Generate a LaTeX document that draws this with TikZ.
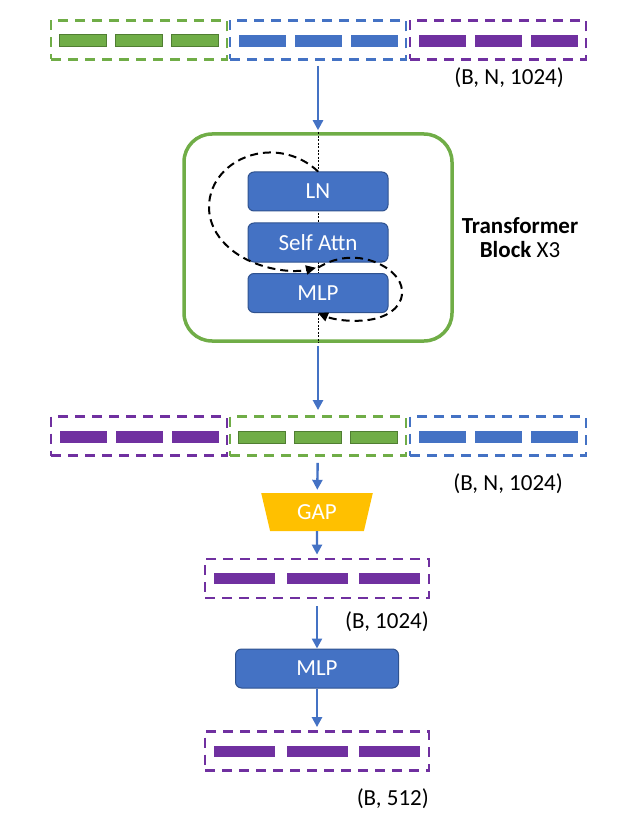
\documentclass[tikz,border=0pt]{standalone}
\usepackage{fontspec}
\setmainfont{Carlito}
\usepackage{tikz}
\usetikzlibrary{arrows.meta}
\usetikzlibrary{shapes.geometric}
\usetikzlibrary{hobby}
\usetikzlibrary{calc}

\definecolor{tgreen}{HTML}{70AD47}
\definecolor{tgreendk}{HTML}{507E32}
\definecolor{tblue}{HTML}{4472C4}
\definecolor{tbluedk}{HTML}{2F528F}
\definecolor{tpurple}{HTML}{7030A0}
\definecolor{tgold}{HTML}{FFC000}

\tikzset{
  grp/.style={draw=#1, line width=2.8pt, dash pattern=on 10pt off 7pt, minimum width=176pt, minimum height=39pt, inner sep=0pt},
  tok/.style={fill=#1, minimum width=47pt, minimum height=12pt, inner sep=0pt},
  flow/.style={draw=tblue, line width=2.4pt, -{Triangle[length=10pt,width=10pt]}},
  layer/.style={fill=tblue, draw=tbluedk, line width=1pt, rounded corners=6pt, text=white, minimum width=140pt, minimum height=39pt, font=\fontsize{23}{27}\selectfont},
  dimlbl/.style={font=\fontsize{23}{27}\selectfont, inner sep=0pt},
  skipline/.style={black, line width=2pt, dash pattern=on 8pt off 5pt, -{Triangle[length=10pt,width=9pt]}},
}

\begin{document}
\begin{tikzpicture}[x=1pt, y=-1pt]
    \useasboundingbox (0,0) rectangle (617,818);
    % input tokens
    \node[grp=tgreen] (in1) at (139,40) {};
    \node[grp=tblue] (in2) at (318,40) {};
    \node[grp=tpurple] (in3) at (498,40) {};
    \foreach \dx in {-56,0,56} {
      \node[tok=tgreen, draw=tgreendk, line width=1pt] at ($(in1)+(\dx,1)$) {};
      \node[tok=tblue] at ($(in2)+(\dx,1)$) {};
      \node[tok=tpurple] at ($(in3)+(\dx,1)$) {};
    }
    \node[dimlbl, anchor=east] (d1) at (564,78) {(B, N, 1024)};

    % transformer block
    \node[draw=tgreen, line width=3.5pt, rounded corners=28pt, minimum width=268pt, minimum height=207pt] (tb) at (318,237.5) {};
    \draw[black, line width=0.8pt, dash pattern=on 2pt off 1.5pt] (tb.north) -- (tb.south);
    \node[layer] (ln) at (318,191.5) {LN};
    \node[layer] (sa) at (318,242.5) {Self Attn};
    \node[layer] (mlp) at (318,293) {MLP};
    \coordinate (jn) at ($(sa.south)!0.5!(mlp.north)$);
    \draw[skipline, use Hobby shortcut] (ln.north) .. (262,153) .. (209,208) .. (252,262) .. ($(jn)+(-2,0)$);
    \draw[skipline, use Hobby shortcut] (jn) .. (385,267) .. (402,294) .. (368,320) .. (mlp.south);
    \node[dimlbl, align=center, font=\fontsize{23}{24}\selectfont] (tbl) at (520,238) {\textbf{Transformer}\\\textbf{Block} X3};
    \draw[flow, shorten <=5pt, shorten >=2pt] (in2) -- (tb);

    % shuffled tokens
    \node[grp=tpurple] (mid1) at (139,436) {};
    \node[grp=tgreen] (mid2) at (318,436) {};
    \node[grp=tblue] (mid3) at (498,436) {};
    \foreach \dx in {-56,0,56} {
      \node[tok=tpurple] at ($(mid1)+(\dx,1)$) {};
      \node[tok=tgreen, draw=tgreendk, line width=1pt] at ($(mid2)+(\dx,1)$) {};
      \node[tok=tblue] at ($(mid3)+(\dx,1)$) {};
    }
    \node[dimlbl, anchor=east] (d2) at (563,484) {(B, N, 1024)};
    \draw[flow, shorten <=3pt, shorten >=5pt] (tb) -- (mid2);

    % pooling and head
    \node[trapezium, shape border rotate=180, trapezium stretches=true, trapezium angle=76, fill=tgold, text=white, minimum width=112pt, minimum height=38pt, inner sep=0pt, font=\fontsize{23}{27}\selectfont] (gap) at (317,512) {GAP};
    \draw[flow, shorten <=6pt, shorten >=3pt] (mid2) -- (gap);
    \node[grp=tpurple, minimum width=224pt] (pool) at (317,578.5) {};
    \foreach \dx in {-72.5,0,72.5} {
      \node[tok=tpurple, minimum width=61pt, minimum height=11pt] at ($(pool)+(\dx,0)$) {};
    }
    \node[dimlbl, anchor=east] (d3) at (429,622) {(B, 1024)};
    \draw[flow, shorten >=3pt] (gap) -- (pool);
    \node[layer, minimum width=163pt] (head) at (317,668.5) {MLP};
    \draw[flow, shorten <=7pt] (pool) -- (head);
    \node[grp=tpurple, minimum width=224pt] (out) at (317,751) {};
    \foreach \dx in {-72.5,0,72.5} {
      \node[tok=tpurple, minimum width=61pt, minimum height=11pt] at ($(out)+(\dx,0)$) {};
    }
    \node[dimlbl, anchor=east] (d4) at (429,799) {(B, 512)};
    \draw[flow, shorten >=3pt] (head) -- (out);
  \end{tikzpicture}
\end{document}
